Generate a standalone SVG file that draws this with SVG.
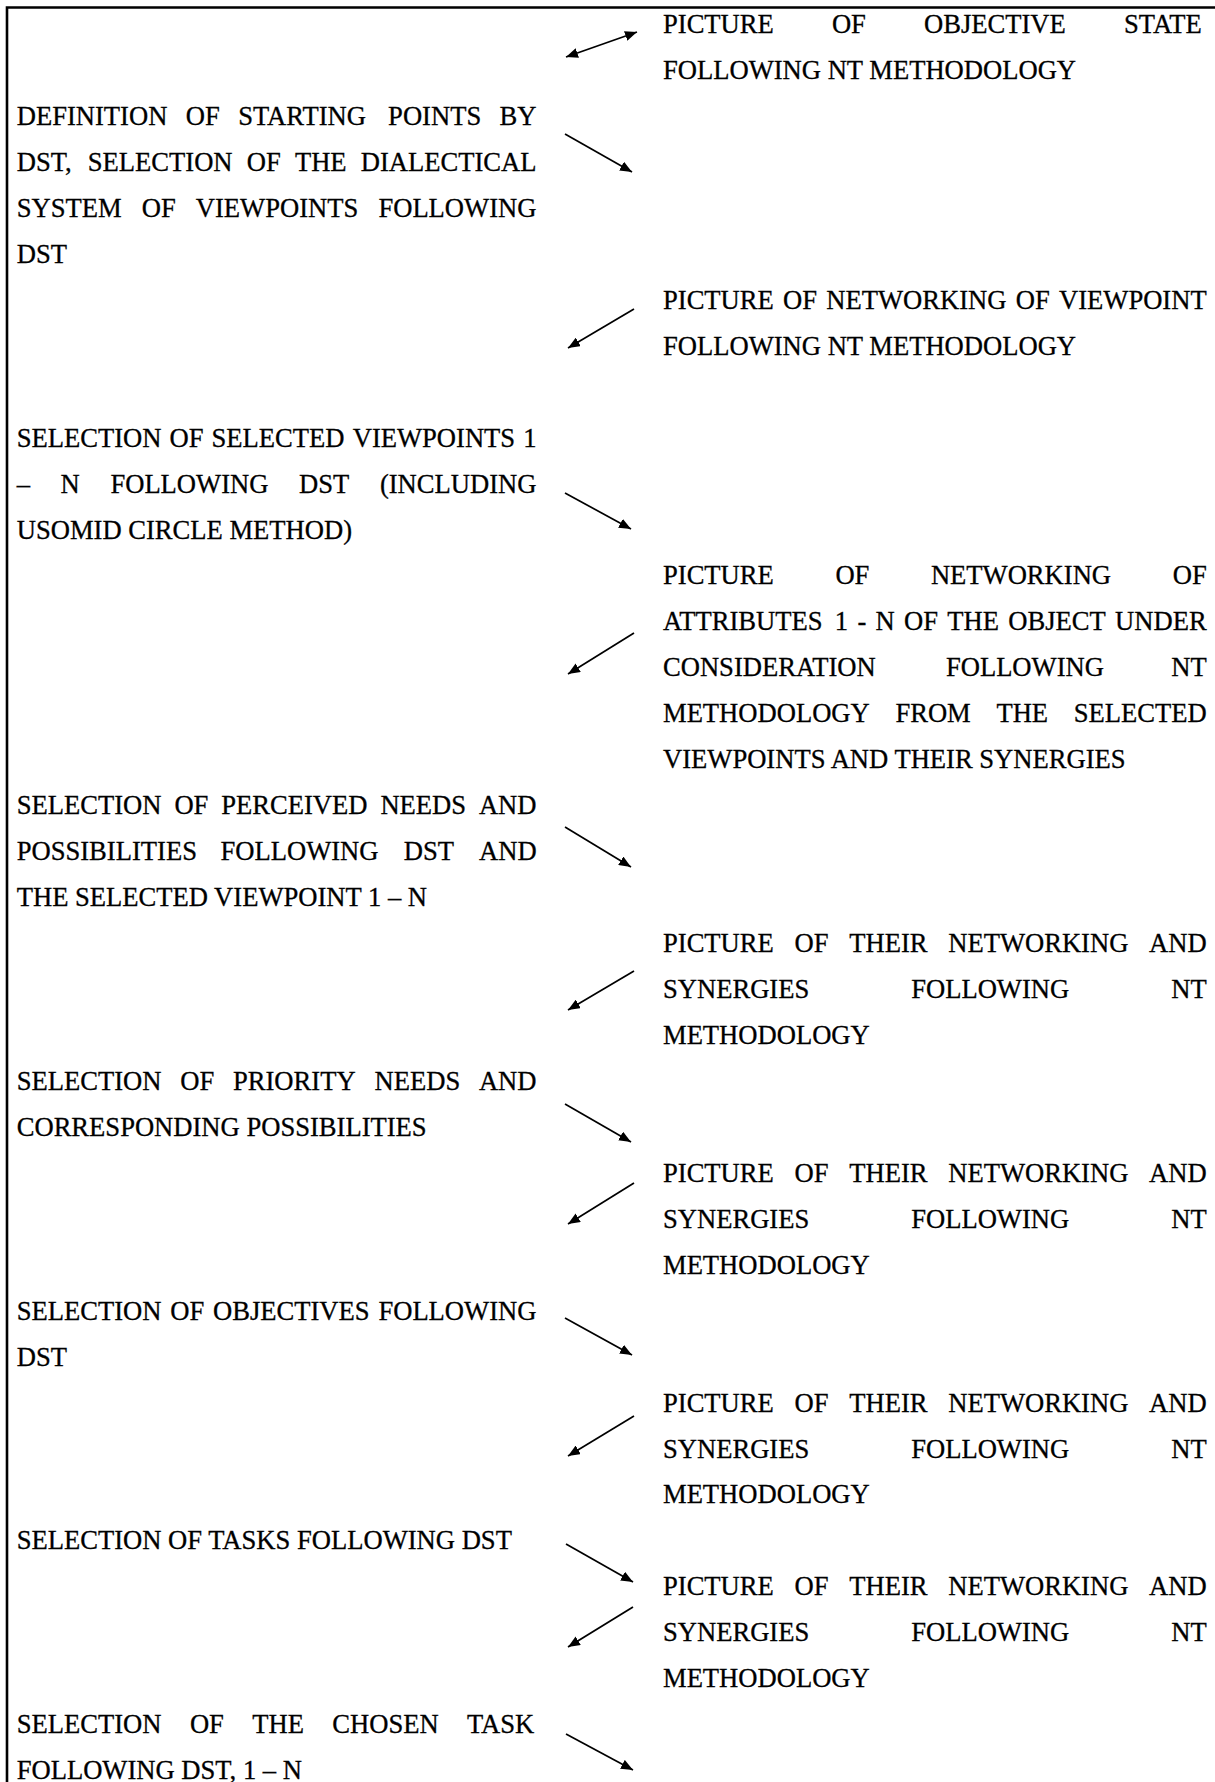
<svg xmlns="http://www.w3.org/2000/svg" width="1215" height="1782" viewBox="0 0 1215 1782">
  <style>
    .t { font-family: "Liberation Serif", "Times New Roman", serif; font-size: 26.6px; fill: #000; stroke: #000; stroke-width: 0.3px; }
    .frame { fill: none; stroke: #000; stroke-width: 2.6; }
    .arr { fill: none; stroke: #000; stroke-width: 1.7; }
  </style>
  <defs>
    <marker id="ah" viewBox="0 0 12 10" refX="12" refY="5" markerWidth="12" markerHeight="10" markerUnits="userSpaceOnUse" orient="auto-start-reverse">
      <path d="M0,0 L12,5 L0,10 z" fill="#000"/>
    </marker>
  </defs>

  <rect width="1215" height="1782" fill="#fff"/>

  <!-- open frame: top and left border -->
  <path class="frame" d="M7,1782 V7.5 H1215"/>

  <!-- each line sits on its baseline (translate) with slightly tall glyphs (scale) -->

  <!-- left column: DST steps -->
  <g id="step-starting-points">
    <text class="t" transform="translate(0,124.9) scale(1,1.04)"><tspan x="16.7">DEFINITION</tspan><tspan x="185.8">OF</tspan><tspan x="238.2">STARTING</tspan><tspan x="388.1">POINTS</tspan><tspan x="499.6">BY</tspan></text>
    <text class="t" transform="translate(0,170.9) scale(1,1.04)"><tspan x="16.7">DST,</tspan><tspan x="87.8">SELECTION</tspan><tspan x="246.7">OF</tspan><tspan x="294.9">THE</tspan><tspan x="360.7">DIALECTICAL</tspan></text>
    <text class="t" transform="translate(0,216.8) scale(1,1.04)"><tspan x="16.7">SYSTEM</tspan><tspan x="141.7">OF</tspan><tspan x="195.8">VIEWPOINTS</tspan><tspan x="378.4">FOLLOWING</tspan></text>
    <text class="t" x="16.7" transform="translate(0,262.8) scale(1,1.04)">DST</text>
  </g>

  <g id="step-viewpoints">
    <text class="t" transform="translate(0,446.6) scale(1,1.04)"><tspan x="16.7">SELECTION</tspan><tspan x="169.6">OF</tspan><tspan x="211.6">SELECTED</tspan><tspan x="352.7">VIEWPOINTS</tspan><tspan x="523.2">1</tspan></text>
    <text class="t" transform="translate(0,492.5) scale(1,1.04)"><tspan x="16.7">–</tspan><tspan x="60.6">N</tspan><tspan x="110.4">FOLLOWING</tspan><tspan x="299.1">DST</tspan><tspan x="379.9">(INCLUDING</tspan></text>
    <text class="t" x="16.7" transform="translate(0,538.5) scale(1,1.04)">USOMID CIRCLE METHOD)</text>
  </g>

  <g id="step-needs">
    <text class="t" transform="translate(0,814.2) scale(1,1.04)"><tspan x="16.7">SELECTION</tspan><tspan x="174.4">OF</tspan><tspan x="221.2">PERCEIVED</tspan><tspan x="380.4">NEEDS</tspan><tspan x="478.9">AND</tspan></text>
    <text class="t" transform="translate(0,860.1) scale(1,1.04)"><tspan x="16.7">POSSIBILITIES</tspan><tspan x="220.5">FOLLOWING</tspan><tspan x="403.7">DST</tspan><tspan x="479.0">AND</tspan></text>
    <text class="t" x="16.7" transform="translate(0,906.1) scale(1,1.04)">THE SELECTED VIEWPOINT 1 – N</text>
  </g>

  <g id="step-priority">
    <text class="t" transform="translate(0,1089.9) scale(1,1.04)"><tspan x="16.7">SELECTION</tspan><tspan x="180.3">OF</tspan><tspan x="233.0">PRIORITY</tspan><tspan x="374.5">NEEDS</tspan><tspan x="478.9">AND</tspan></text>
    <text class="t" x="16.7" transform="translate(0,1135.8) scale(1,1.04)">CORRESPONDING POSSIBILITIES</text>
  </g>

  <g id="step-objectives">
    <text class="t" transform="translate(0,1319.6) scale(1,1.04)"><tspan x="16.7">SELECTION</tspan><tspan x="170.3">OF</tspan><tspan x="213.0">OBJECTIVES</tspan><tspan x="378.4">FOLLOWING</tspan></text>
    <text class="t" x="16.7" transform="translate(0,1365.6) scale(1,1.04)">DST</text>
  </g>

  <g id="step-tasks">
    <text class="t" x="16.7" transform="translate(0,1549.4) scale(1,1.04)">SELECTION OF TASKS FOLLOWING DST</text>
  </g>

  <g id="step-chosen-task">
    <text class="t" transform="translate(0,1733.2) scale(1,1.04)"><tspan x="16.7">SELECTION</tspan><tspan x="189.9">OF</tspan><tspan x="252.2">THE</tspan><tspan x="332.3">CHOSEN</tspan><tspan x="467.0">TASK</tspan></text>
    <text class="t" x="16.7" transform="translate(0,1779.1) scale(1,1.04)">FOLLOWING DST, 1 – N</text>
  </g>

  <!-- right column: NT pictures -->
  <g id="pic-objective-state">
    <text class="t" transform="translate(0,33.0) scale(1,1.04)"><tspan x="663">PICTURE</tspan><tspan x="831.9">OF</tspan><tspan x="924.0">OBJECTIVE</tspan><tspan x="1124.0">STATE</tspan></text>
    <text class="t" x="663" transform="translate(0,79.0) scale(1,1.04)">FOLLOWING NT METHODOLOGY</text>
  </g>

  <g id="pic-viewpoint-network">
    <text class="t" transform="translate(0,308.7) scale(1,1.04)"><tspan x="663">PICTURE</tspan><tspan x="783.1">OF</tspan><tspan x="826.3">NETWORKING</tspan><tspan x="1015.8">OF</tspan><tspan x="1059.0">VIEWPOINT</tspan></text>
    <text class="t" x="663" transform="translate(0,354.7) scale(1,1.04)">FOLLOWING NT METHODOLOGY</text>
  </g>

  <g id="pic-attributes-network">
    <text class="t" transform="translate(0,584.4) scale(1,1.04)"><tspan x="663">PICTURE</tspan><tspan x="835.4">OF</tspan><tspan x="930.9">NETWORKING</tspan><tspan x="1172.7">OF</tspan></text>
    <text class="t" transform="translate(0,630.4) scale(1,1.04)"><tspan x="663">ATTRIBUTES</tspan><tspan x="834.8">1</tspan><tspan x="857.4">-</tspan><tspan x="875.6">N</tspan><tspan x="904.0">OF</tspan><tspan x="947.3">THE</tspan><tspan x="1008.3">OBJECT</tspan><tspan x="1115.1">UNDER</tspan></text>
    <text class="t" transform="translate(0,676.3) scale(1,1.04)"><tspan x="663">CONSIDERATION</tspan><tspan x="945.9">FOLLOWING</tspan><tspan x="1171.2">NT</tspan></text>
    <text class="t" transform="translate(0,722.3) scale(1,1.04)"><tspan x="663">METHODOLOGY</tspan><tspan x="895.4">FROM</tspan><tspan x="996.4">THE</tspan><tspan x="1073.7">SELECTED</tspan></text>
    <text class="t" x="663" transform="translate(0,768.2) scale(1,1.04)">VIEWPOINTS AND THEIR SYNERGIES</text>
  </g>

  <g id="pic-needs-network">
    <text class="t" transform="translate(0,952.0) scale(1,1.04)"><tspan x="663">PICTURE</tspan><tspan x="794.5">OF</tspan><tspan x="849.2">THEIR</tspan><tspan x="948.2">NETWORKING</tspan><tspan x="1149.1">AND</tspan></text>
    <text class="t" transform="translate(0,998.0) scale(1,1.04)"><tspan x="663">SYNERGIES</tspan><tspan x="911.2">FOLLOWING</tspan><tspan x="1171.2">NT</tspan></text>
    <text class="t" x="663" transform="translate(0,1043.9) scale(1,1.04)">METHODOLOGY</text>
  </g>

  <g id="pic-priority-network">
    <text class="t" transform="translate(0,1181.8) scale(1,1.04)"><tspan x="663">PICTURE</tspan><tspan x="794.5">OF</tspan><tspan x="849.2">THEIR</tspan><tspan x="948.2">NETWORKING</tspan><tspan x="1149.1">AND</tspan></text>
    <text class="t" transform="translate(0,1227.7) scale(1,1.04)"><tspan x="663">SYNERGIES</tspan><tspan x="911.2">FOLLOWING</tspan><tspan x="1171.2">NT</tspan></text>
    <text class="t" x="663" transform="translate(0,1273.7) scale(1,1.04)">METHODOLOGY</text>
  </g>

  <g id="pic-objectives-network">
    <text class="t" transform="translate(0,1411.5) scale(1,1.04)"><tspan x="663">PICTURE</tspan><tspan x="794.5">OF</tspan><tspan x="849.2">THEIR</tspan><tspan x="948.2">NETWORKING</tspan><tspan x="1149.1">AND</tspan></text>
    <text class="t" transform="translate(0,1457.5) scale(1,1.04)"><tspan x="663">SYNERGIES</tspan><tspan x="911.2">FOLLOWING</tspan><tspan x="1171.2">NT</tspan></text>
    <text class="t" x="663" transform="translate(0,1503.4) scale(1,1.04)">METHODOLOGY</text>
  </g>

  <g id="pic-tasks-network">
    <text class="t" transform="translate(0,1595.3) scale(1,1.04)"><tspan x="663">PICTURE</tspan><tspan x="794.5">OF</tspan><tspan x="849.2">THEIR</tspan><tspan x="948.2">NETWORKING</tspan><tspan x="1149.1">AND</tspan></text>
    <text class="t" transform="translate(0,1641.3) scale(1,1.04)"><tspan x="663">SYNERGIES</tspan><tspan x="911.2">FOLLOWING</tspan><tspan x="1171.2">NT</tspan></text>
    <text class="t" x="663" transform="translate(0,1687.2) scale(1,1.04)">METHODOLOGY</text>
  </g>

  <!-- connectors between steps and pictures -->
  <g id="connectors">
    <path class="arr" d="M566,57 L637,32" marker-start="url(#ah)" marker-end="url(#ah)"/>
    <path class="arr" d="M565,134 L632,172" marker-end="url(#ah)"/>
    <path class="arr" d="M634,309 L568,348" marker-end="url(#ah)"/>
    <path class="arr" d="M565,493 L631,529" marker-end="url(#ah)"/>
    <path class="arr" d="M634,633 L568,674" marker-end="url(#ah)"/>
    <path class="arr" d="M565,827 L631,867" marker-end="url(#ah)"/>
    <path class="arr" d="M634,971 L568,1010" marker-end="url(#ah)"/>
    <path class="arr" d="M565,1104 L631,1142" marker-end="url(#ah)"/>
    <path class="arr" d="M634,1183 L568,1224" marker-end="url(#ah)"/>
    <path class="arr" d="M565,1318 L632,1355" marker-end="url(#ah)"/>
    <path class="arr" d="M634,1416 L568,1456" marker-end="url(#ah)"/>
    <path class="arr" d="M566,1544 L633,1582" marker-end="url(#ah)"/>
    <path class="arr" d="M633,1607 L568,1647" marker-end="url(#ah)"/>
    <path class="arr" d="M566,1734 L633,1770" marker-end="url(#ah)"/>
  </g>
</svg>
